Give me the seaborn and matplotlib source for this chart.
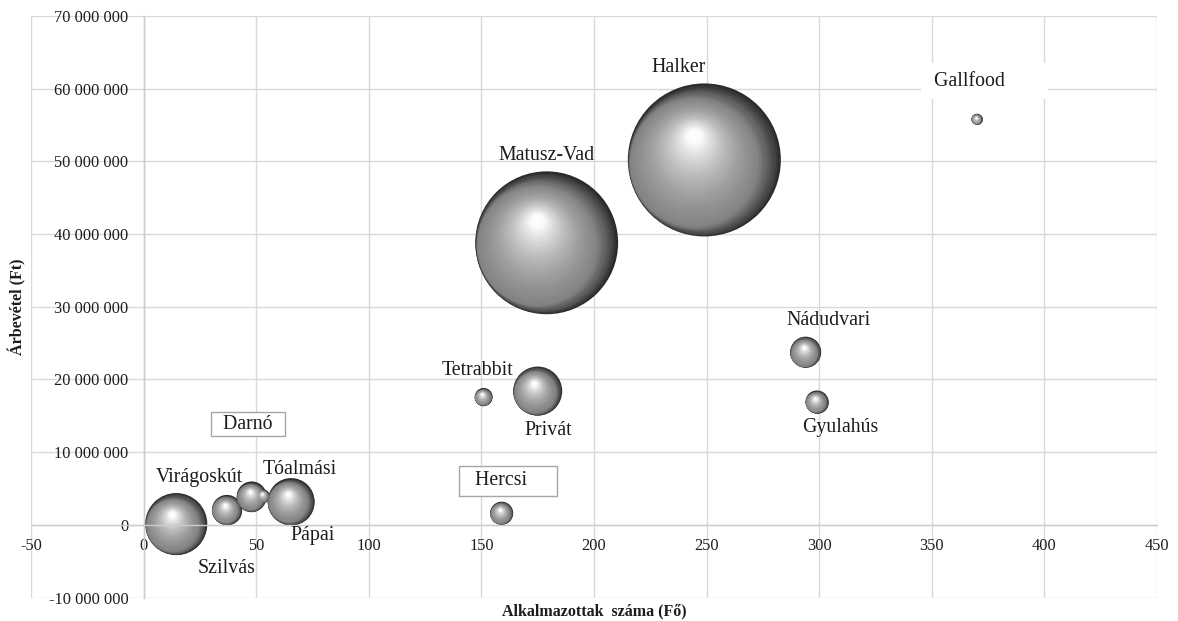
#!/usr/bin/env python3
"""Bubble chart: employees vs. revenue of meat processing companies."""

import matplotlib
matplotlib.use("Agg")

import numpy as np
import pandas as pd
import matplotlib.pyplot as plt
import seaborn as sns
from matplotlib.colors import LinearSegmentedColormap
from matplotlib.ticker import FuncFormatter, MultipleLocator
from matplotlib.transforms import ScaledTranslation


companies = ["Virágoskút", "Szilvás", "Darnó", "Tóalmási", "Pápai", "Tetrabbit", "Hercsi",
             "Privát", "Matusz-Vad", "Halker", "Nádudvari", "Gyulahús", "Gallfood"]
employees = [14.5, 37, 48, 53, 65.5, 151, 159, 175, 179, 249, 294, 299, 370]
revenue = [100_000, 2_050_000, 3_900_000, 4_000_000, 3_200_000, 17_600_000, 1_600_000,
           18_400_000, 38_800_000, 50_200_000, 23_750_000, 16_900_000, 55_800_000]
bubble = [3850, 900, 900, 170, 2200, 320, 530, 2400, 20400, 23400, 960, 530, 120]

x_ticks_step = 50
y_ticks_step = 10_000_000

# label placement (offset in points from the bubble centre) and optional box style
label_layout = {
    "Virágoskút": ((16.6, 33.8), None, None),
    "Szilvás": ((0, -42.5), None, None),
    "Darnó": ((-2.7, 52.0), "  Darnó  ", dict(boxstyle="square,pad=0.12", fc="white", ec="#a6a6a6", lw=1)),
    "Tóalmási": ((26.6, 18.7), None, None),
    "Pápai": ((15.8, -24.5), None, None),
    "Tetrabbit": ((-4.3, 18.7), None, None),
    "Hercsi": ((4.8, 23.3), "  Hercsi     ", dict(boxstyle="square,pad=0.28", fc="white", ec="#a6a6a6", lw=1)),
    "Privát": ((7.9, -28.1), None, None),
    "Matusz-Vad": ((0, 62.6), None, None),
    "Halker": ((-18.7, 66.2), None, None),
    "Nádudvari": ((16.7, 22.8), None, None),
    "Gyulahús": ((16.6, -18.7), None, None),
    "Gallfood": ((5.6, 27.4), " Gallfood       ", dict(boxstyle="square,pad=0.42", fc="white", ec="none")),
}

df = pd.DataFrame({"company": companies, "employees": employees,
                   "revenue": revenue, "bubble": bubble})

sns.set_theme(style="whitegrid")
plt.rcParams["font.family"] = ["Liberation Serif", "DejaVu Serif"]
text_color = "#1c1c1c"

fig, ax = plt.subplots(figsize=(11.78, 6.21), dpi=100)
fig.subplots_adjust(left=31 / 1178, right=1157 / 1178, top=1 - 16 / 621, bottom=1 - 597.5 / 621)

# bubble area proportional to value; largest bubble ~153 px across
smax = (153 * 0.72) ** 2
vmax = max(bubble)
sns.scatterplot(data=df, x="employees", y="revenue", size="bubble",
                sizes=(0, smax), size_norm=(0, vmax), color="#2b2b2b",
                linewidth=0, legend=False, ax=ax, zorder=2)

# fake 3D sphere shading: stacked shrinking circles, first drifting left
# (dark crescent on the right), then up towards the highlight
shade = LinearSegmentedColormap.from_list("sphere", [
    (0.0, "#2b2b2b"), (0.05, "#4c4c4c"), (0.15, "#828282"), (0.4, "#9c9c9c"),
    (0.62, "#bdbdbd"), (0.8, "#e2e2e2"), (0.9, "#fbfbfb"), (1.0, "#ffffff")])
path_u = [0.0, 0.15, 1.0]
path_x = [0.0, -0.13, -0.14]
path_y = [0.0, -0.03, 0.36]
s_pts = df["bubble"] / vmax * smax
for u in np.linspace(0, 0.97, 50)[1:]:
    cx = np.interp(u, path_u, path_x)
    cy = np.interp(u, path_u, path_y)
    for xi, yi, si in zip(df["employees"], df["revenue"], s_pts):
        r = np.sqrt(si) / 2
        shift = ScaledTranslation(cx * r / 72, cy * r / 72, fig.dpi_scale_trans)
        ax.scatter(xi, yi, s=si * (1 - u) ** 2, color=shade(u), linewidths=0,
                   transform=ax.transData + shift, zorder=2)

for name, xi, yi in zip(df["company"], df["employees"], df["revenue"]):
    offset, text, box = label_layout[name]
    ax.annotate(text or name, (xi, yi), xytext=offset, textcoords="offset points",
                ha="center", va="center", fontsize=14.3, color=text_color,
                bbox=box, zorder=5)

ax.set_xlim(-50, 450)
ax.set_ylim(-10_000_000, 70_000_000)
ax.xaxis.set_major_locator(MultipleLocator(x_ticks_step))
ax.yaxis.set_major_locator(MultipleLocator(y_ticks_step))
ax.yaxis.set_major_formatter(FuncFormatter(lambda v, _: f"{v:,.0f}".replace(",", " ")))
ax.xaxis.set_major_formatter(FuncFormatter(lambda v, _: f"{v:.0f}"))

ax.grid(True, color="#d9d9d9", linewidth=1)
ax.set_axisbelow(True)
for side in ["top", "right"]:
    ax.spines[side].set_visible(False)
ax.spines["left"].set_position(("data", 0))
ax.spines["bottom"].set_position(("data", 0))
for side in ["left", "bottom"]:
    ax.spines[side].set_color("#cccccc")
    ax.spines[side].set_linewidth(1)
ax.tick_params(axis="x", length=0, pad=9.5, labelsize=11.8, labelcolor=text_color)
ax.tick_params(axis="y", length=0, pad=11, labelsize=11.8, labelcolor=text_color)

ax.set_xlabel("Alkalmazottak  száma (Fő)", fontsize=11.5, fontweight="bold", color=text_color)
ax.set_ylabel("Árbevétel (Ft)", fontsize=11.5, fontweight="bold", color=text_color)
ax.xaxis.set_label_coords(0.5, -0.01)
ax.yaxis.set_label_coords(-0.004, 0.5)

fig.savefig("out.png", dpi=100)
plt.close(fig)
